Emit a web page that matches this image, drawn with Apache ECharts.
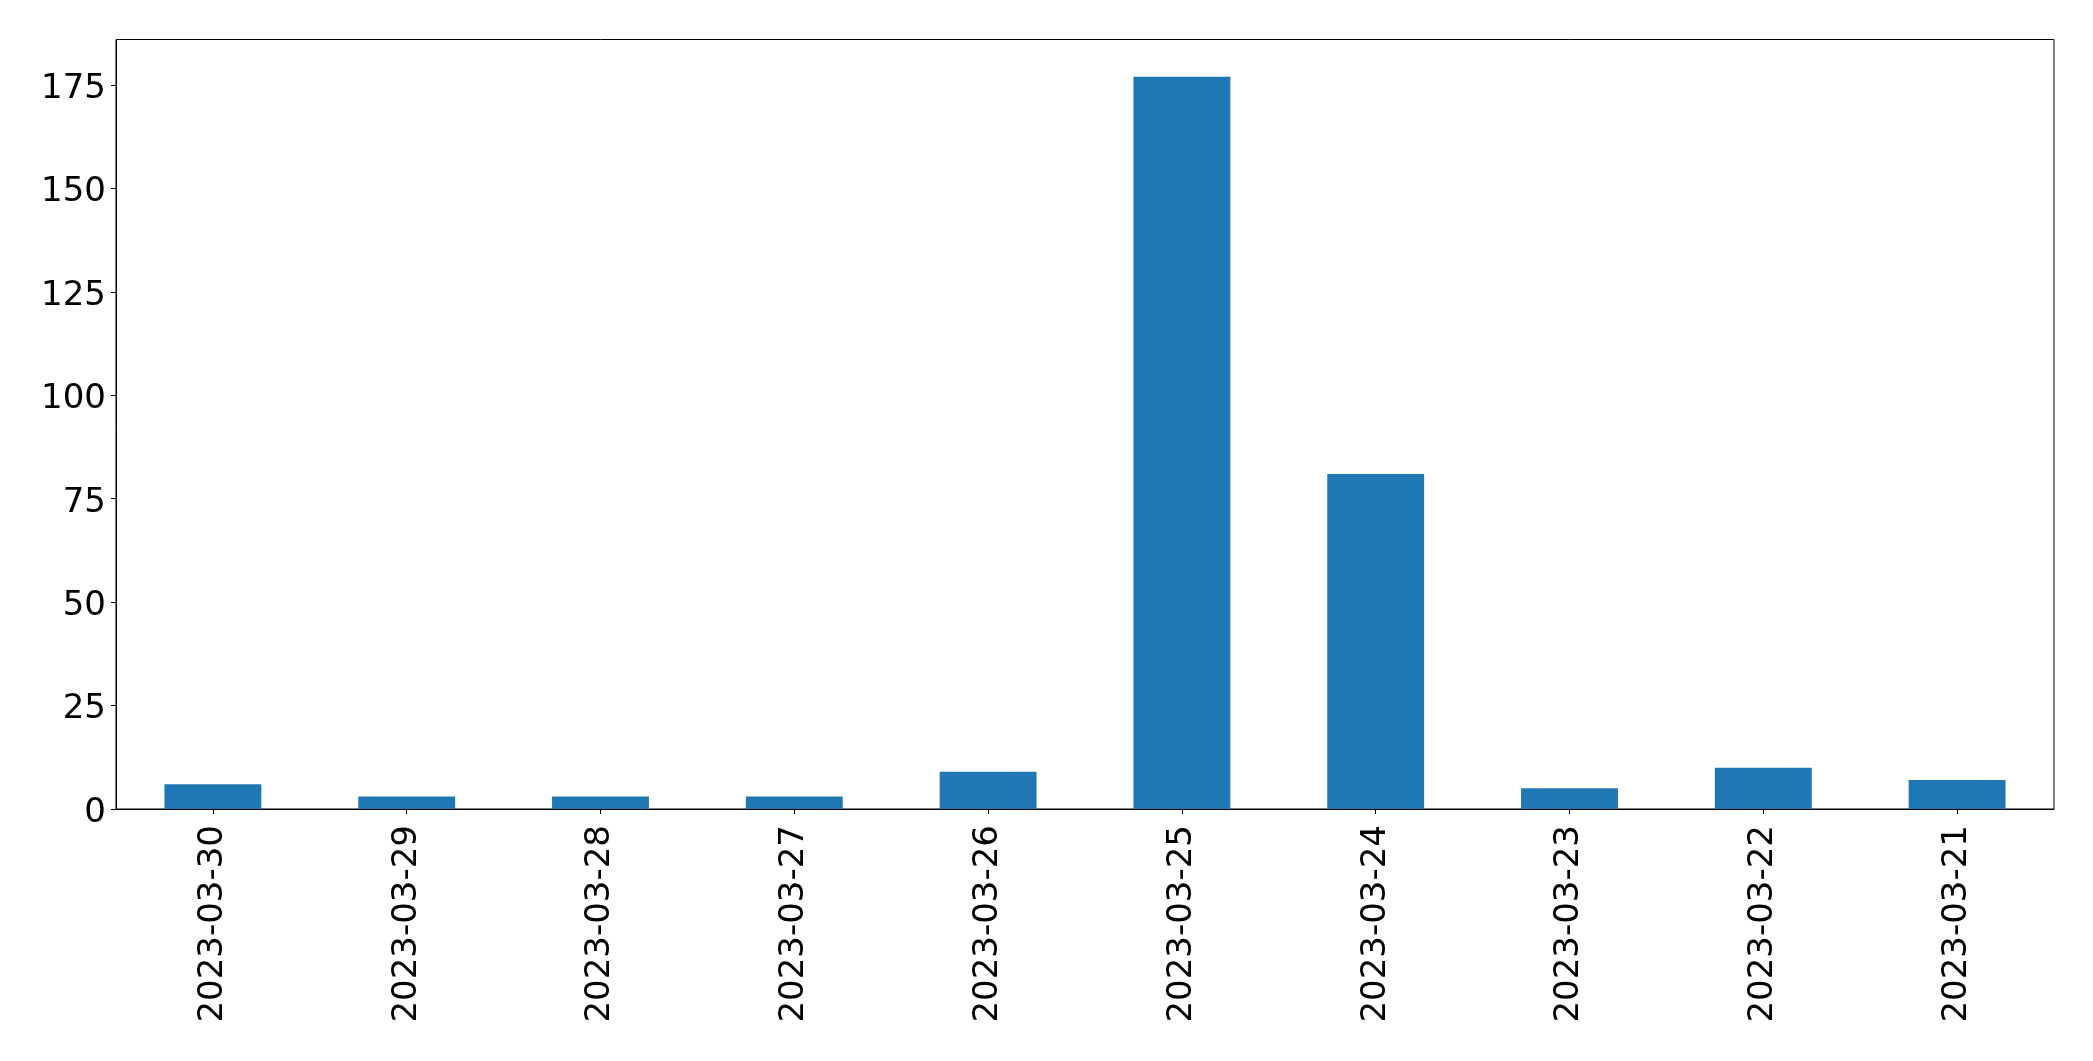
<!DOCTYPE html>
<html>
<head>
<meta charset="utf-8">
<script src="https://cdn.jsdelivr.net/npm/echarts@6/dist/echarts.min.js"></script>
<style>html,body{margin:0;padding:0;background:#fff;}#c{width:2093px;height:1061px;}</style>
</head>
<body>
<div id="c"></div>
<script>
const categories = ["2023-03-30","2023-03-29","2023-03-28","2023-03-27","2023-03-26","2023-03-25","2023-03-24","2023-03-23","2023-03-22","2023-03-21"];
const values = [6, 3, 3, 3, 9, 177, 81, 5, 10, 7];
const yTicks = [0, 25, 50, 75, 100, 125, 150, 175];

const chart = echarts.init(document.getElementById('c'), null, {renderer: 'canvas'});
const font = "'DejaVu Sans', sans-serif";
chart.setOption({
  animation: false,
  backgroundColor: '#fff',
  grid: {left: 116, right: 39, top: 39.5, bottom: 252, show: true, borderColor: '#000', borderWidth: 1, containLabel: false},
  xAxis: {
    type: 'category',
    data: categories,
    boundaryGap: true,
    axisLine: {show: true, lineStyle: {color: '#000', width: 1}},
    axisTick: {show: true, alignWithLabel: true, length: 5, lineStyle: {color: '#000', width: 1}},
    axisLabel: {rotate: 90, fontSize: 34, fontFamily: font, color: '#000', margin: 16, interval: 0},
    splitLine: {show: false}
  },
  yAxis: {
    type: 'value',
    min: 0,
    max: 186,
    interval: 25,
    axisLine: {show: true, lineStyle: {color: '#000', width: 1}},
    axisTick: {show: true, length: 5, customValues: yTicks, lineStyle: {color: '#000', width: 1}},
    axisLabel: {
      fontSize: 34, fontFamily: font, color: '#000', margin: 10, customValues: yTicks,
      formatter: function (v) { return '{a|' + v + '}'; },
      rich: {a: {fontSize: 34, fontFamily: font, color: '#000', padding: [8, 0, 0, 0]}}
    },
    splitLine: {show: false}
  },
  series: [{
    type: 'bar',
    data: values,
    barWidth: '50%',
    itemStyle: {color: '#1f77b4'}
  }]
});
</script>
</body>
</html>
